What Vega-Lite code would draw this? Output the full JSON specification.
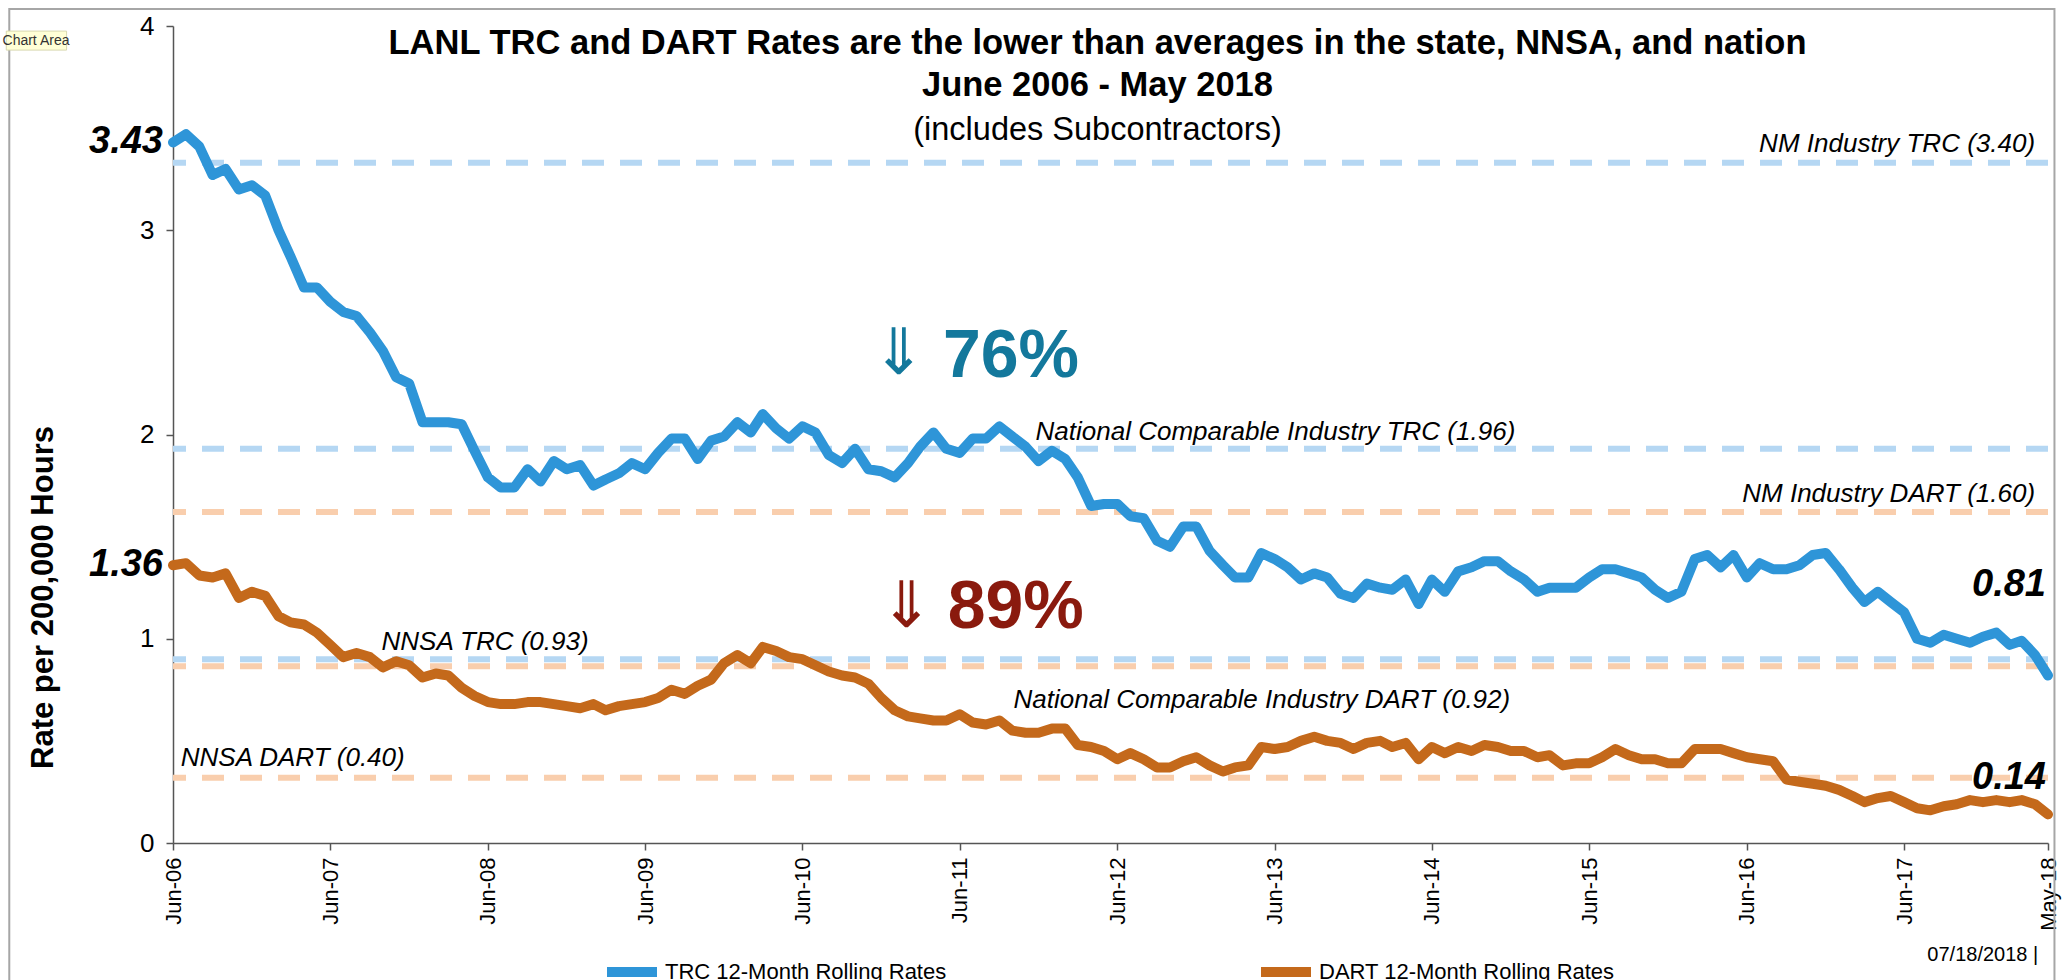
{
  "$schema": "https://vega.github.io/schema/vega-lite/v6.json",
  "autosize": {"type": "none"},
  "width": 1875,
  "height": 817,
  "padding": {"left": 173, "top": 26, "right": 14, "bottom": 137},
  "background": "white",
  "config": {"view": {"stroke": null}, "font": "Liberation Sans"},
  "title": {
    "text": ["LANL TRC and DART Rates are the lower than averages in the state, NNSA, and nation", "June 2006 - May 2018"],
    "subtitle": "(includes Subcontractors)",
    "anchor": "middle",
    "font": "Liberation Sans",
    "fontSize": 34.5,
    "fontWeight": "bold",
    "lineHeight": 42,
    "color": "black",
    "subtitleFont": "Liberation Sans",
    "subtitleFontSize": 32.5,
    "subtitleColor": "black",
    "subtitlePadding": 10,
    "offset": -139,
    "dx": -13
  },
  "datasets": {
    "rates": [
      {"d":"2006-06-01","TRC":3.43,"DART":1.36},{"d":"2006-07-01","TRC":3.47,"DART":1.37},{"d":"2006-08-01","TRC":3.41,"DART":1.31},{"d":"2006-09-01","TRC":3.27,"DART":1.30},{"d":"2006-10-01","TRC":3.30,"DART":1.32},{"d":"2006-11-01","TRC":3.20,"DART":1.20},{"d":"2006-12-01","TRC":3.22,"DART":1.23},
      {"d":"2007-01-01","TRC":3.17,"DART":1.21},{"d":"2007-02-01","TRC":3.00,"DART":1.11},{"d":"2007-03-01","TRC":2.87,"DART":1.08},{"d":"2007-04-01","TRC":2.72,"DART":1.07},{"d":"2007-05-01","TRC":2.72,"DART":1.03},{"d":"2007-06-01","TRC":2.65,"DART":0.97},{"d":"2007-07-01","TRC":2.60,"DART":0.91},{"d":"2007-08-01","TRC":2.58,"DART":0.93},{"d":"2007-09-01","TRC":2.50,"DART":0.91},{"d":"2007-10-01","TRC":2.41,"DART":0.86},{"d":"2007-11-01","TRC":2.28,"DART":0.89},{"d":"2007-12-01","TRC":2.25,"DART":0.87},
      {"d":"2008-01-01","TRC":2.06,"DART":0.81},{"d":"2008-02-01","TRC":2.06,"DART":0.83},{"d":"2008-03-01","TRC":2.06,"DART":0.82},{"d":"2008-04-01","TRC":2.05,"DART":0.76},{"d":"2008-05-01","TRC":1.92,"DART":0.72},{"d":"2008-06-01","TRC":1.79,"DART":0.69},{"d":"2008-07-01","TRC":1.74,"DART":0.68},{"d":"2008-08-01","TRC":1.74,"DART":0.68},{"d":"2008-09-01","TRC":1.83,"DART":0.69},{"d":"2008-10-01","TRC":1.77,"DART":0.69},{"d":"2008-11-01","TRC":1.87,"DART":0.68},{"d":"2008-12-01","TRC":1.83,"DART":0.67},
      {"d":"2009-01-01","TRC":1.85,"DART":0.66},{"d":"2009-02-01","TRC":1.75,"DART":0.68},{"d":"2009-03-01","TRC":1.78,"DART":0.65},{"d":"2009-04-01","TRC":1.81,"DART":0.67},{"d":"2009-05-01","TRC":1.86,"DART":0.68},{"d":"2009-06-01","TRC":1.83,"DART":0.69},{"d":"2009-07-01","TRC":1.91,"DART":0.71},{"d":"2009-08-01","TRC":1.98,"DART":0.75},{"d":"2009-09-01","TRC":1.98,"DART":0.73},{"d":"2009-10-01","TRC":1.88,"DART":0.77},{"d":"2009-11-01","TRC":1.97,"DART":0.80},{"d":"2009-12-01","TRC":1.99,"DART":0.88},
      {"d":"2010-01-01","TRC":2.06,"DART":0.92},{"d":"2010-02-01","TRC":2.01,"DART":0.88},{"d":"2010-03-01","TRC":2.10,"DART":0.96},{"d":"2010-04-01","TRC":2.03,"DART":0.94},{"d":"2010-05-01","TRC":1.98,"DART":0.91},{"d":"2010-06-01","TRC":2.04,"DART":0.90},{"d":"2010-07-01","TRC":2.01,"DART":0.87},{"d":"2010-08-01","TRC":1.90,"DART":0.84},{"d":"2010-09-01","TRC":1.86,"DART":0.82},{"d":"2010-10-01","TRC":1.93,"DART":0.81},{"d":"2010-11-01","TRC":1.83,"DART":0.78},{"d":"2010-12-01","TRC":1.82,"DART":0.71},
      {"d":"2011-01-01","TRC":1.79,"DART":0.65},{"d":"2011-02-01","TRC":1.86,"DART":0.62},{"d":"2011-03-01","TRC":1.94,"DART":0.61},{"d":"2011-04-01","TRC":2.01,"DART":0.60},{"d":"2011-05-01","TRC":1.93,"DART":0.60},{"d":"2011-06-01","TRC":1.91,"DART":0.63},{"d":"2011-07-01","TRC":1.98,"DART":0.59},{"d":"2011-08-01","TRC":1.98,"DART":0.58},{"d":"2011-09-01","TRC":2.04,"DART":0.60},{"d":"2011-10-01","TRC":1.99,"DART":0.55},{"d":"2011-11-01","TRC":1.94,"DART":0.54},{"d":"2011-12-01","TRC":1.87,"DART":0.54},
      {"d":"2012-01-01","TRC":1.92,"DART":0.56},{"d":"2012-02-01","TRC":1.88,"DART":0.56},{"d":"2012-03-01","TRC":1.79,"DART":0.48},{"d":"2012-04-01","TRC":1.65,"DART":0.47},{"d":"2012-05-01","TRC":1.66,"DART":0.45},{"d":"2012-06-01","TRC":1.66,"DART":0.41},{"d":"2012-07-01","TRC":1.60,"DART":0.44},{"d":"2012-08-01","TRC":1.59,"DART":0.41},{"d":"2012-09-01","TRC":1.48,"DART":0.37},{"d":"2012-10-01","TRC":1.45,"DART":0.37},{"d":"2012-11-01","TRC":1.55,"DART":0.40},{"d":"2012-12-01","TRC":1.55,"DART":0.42},
      {"d":"2013-01-01","TRC":1.43,"DART":0.38},{"d":"2013-02-01","TRC":1.36,"DART":0.35},{"d":"2013-03-01","TRC":1.30,"DART":0.37},{"d":"2013-04-01","TRC":1.30,"DART":0.38},{"d":"2013-05-01","TRC":1.42,"DART":0.47},{"d":"2013-06-01","TRC":1.39,"DART":0.46},{"d":"2013-07-01","TRC":1.35,"DART":0.47},{"d":"2013-08-01","TRC":1.29,"DART":0.50},{"d":"2013-09-01","TRC":1.32,"DART":0.52},{"d":"2013-10-01","TRC":1.30,"DART":0.50},{"d":"2013-11-01","TRC":1.22,"DART":0.49},{"d":"2013-12-01","TRC":1.20,"DART":0.46},
      {"d":"2014-01-01","TRC":1.27,"DART":0.49},{"d":"2014-02-01","TRC":1.25,"DART":0.50},{"d":"2014-03-01","TRC":1.24,"DART":0.47},{"d":"2014-04-01","TRC":1.29,"DART":0.49},{"d":"2014-05-01","TRC":1.17,"DART":0.41},{"d":"2014-06-01","TRC":1.29,"DART":0.47},{"d":"2014-07-01","TRC":1.23,"DART":0.44},{"d":"2014-08-01","TRC":1.33,"DART":0.47},{"d":"2014-09-01","TRC":1.35,"DART":0.45},{"d":"2014-10-01","TRC":1.38,"DART":0.48},{"d":"2014-11-01","TRC":1.38,"DART":0.47},{"d":"2014-12-01","TRC":1.33,"DART":0.45},
      {"d":"2015-01-01","TRC":1.29,"DART":0.45},{"d":"2015-02-01","TRC":1.23,"DART":0.42},{"d":"2015-03-01","TRC":1.25,"DART":0.43},{"d":"2015-04-01","TRC":1.25,"DART":0.38},{"d":"2015-05-01","TRC":1.25,"DART":0.39},{"d":"2015-06-01","TRC":1.30,"DART":0.39},{"d":"2015-07-01","TRC":1.34,"DART":0.42},{"d":"2015-08-01","TRC":1.34,"DART":0.46},{"d":"2015-09-01","TRC":1.32,"DART":0.43},{"d":"2015-10-01","TRC":1.30,"DART":0.41},{"d":"2015-11-01","TRC":1.24,"DART":0.41},{"d":"2015-12-01","TRC":1.20,"DART":0.39},
      {"d":"2016-01-01","TRC":1.23,"DART":0.39},{"d":"2016-02-01","TRC":1.39,"DART":0.46},{"d":"2016-03-01","TRC":1.41,"DART":0.46},{"d":"2016-04-01","TRC":1.35,"DART":0.46},{"d":"2016-05-01","TRC":1.41,"DART":0.44},{"d":"2016-06-01","TRC":1.30,"DART":0.42},{"d":"2016-07-01","TRC":1.37,"DART":0.41},{"d":"2016-08-01","TRC":1.34,"DART":0.40},{"d":"2016-09-01","TRC":1.34,"DART":0.31},{"d":"2016-10-01","TRC":1.36,"DART":0.30},{"d":"2016-11-01","TRC":1.41,"DART":0.29},{"d":"2016-12-01","TRC":1.42,"DART":0.28},
      {"d":"2017-01-01","TRC":1.34,"DART":0.26},{"d":"2017-02-01","TRC":1.25,"DART":0.23},{"d":"2017-03-01","TRC":1.18,"DART":0.20},{"d":"2017-04-01","TRC":1.23,"DART":0.22},{"d":"2017-05-01","TRC":1.18,"DART":0.23},{"d":"2017-06-01","TRC":1.13,"DART":0.20},{"d":"2017-07-01","TRC":1.00,"DART":0.17},{"d":"2017-08-01","TRC":0.98,"DART":0.16},{"d":"2017-09-01","TRC":1.02,"DART":0.18},{"d":"2017-10-01","TRC":1.00,"DART":0.19},{"d":"2017-11-01","TRC":0.98,"DART":0.21},{"d":"2017-12-01","TRC":1.01,"DART":0.20},
      {"d":"2018-01-01","TRC":1.03,"DART":0.21},{"d":"2018-02-01","TRC":0.97,"DART":0.20},{"d":"2018-03-01","TRC":0.99,"DART":0.21},{"d":"2018-04-01","TRC":0.92,"DART":0.19},{"d":"2018-05-01","TRC":0.82,"DART":0.14}
    ],
    "refs": [
      {"name":"NM Industry TRC (3.40)","kind":"TRC","v":3.33},
      {"name":"National Comparable Industry TRC (1.96)","kind":"TRC","v":1.93},
      {"name":"NM Industry DART (1.60)","kind":"DART","v":1.62},
      {"name":"NNSA TRC (0.93)","kind":"TRC","v":0.90},
      {"name":"National Comparable Industry DART (0.92)","kind":"DART","v":0.865},
      {"name":"NNSA DART (0.40)","kind":"DART","v":0.32}
    ],
    "refLabelsRight": [
      {"label":"NM Industry TRC (3.40)","d":"2018-04-01","v":3.42},
      {"label":"NM Industry DART (1.60)","d":"2018-04-01","v":1.71}
    ],
    "refLabelsLeft": [
      {"label":"National Comparable Industry TRC (1.96)","d":"2011-11-24","v":2.01},
      {"label":"NNSA TRC (0.93)","d":"2007-09-28","v":0.985},
      {"label":"National Comparable Industry DART (0.92)","d":"2011-10-04","v":0.70},
      {"label":"NNSA DART (0.40)","d":"2006-06-19","v":0.416}
    ],
    "startLabels": [
      {"label":"3.43","d":"2006-06-01","v":3.43},
      {"label":"1.36","d":"2006-06-01","v":1.36}
    ],
    "endLabels": [
      {"label":"0.81","d":"2018-05-01","v":1.263},
      {"label":"0.14","d":"2018-05-01","v":0.318}
    ],
    "pct": [
      {"label":"76%","kind":"TRC","d":"2011-04-23","v":2.38},
      {"label":"89%","kind":"DART","d":"2011-05-04","v":1.15}
    ],
    "arrows": [
      {"label":"⇓","kind":"TRC","d":"2011-01-10","v":2.39},
      {"label":"⇓","kind":"DART","d":"2011-01-28","v":1.15}
    ],
    "stamp": [
      {"label":"07/18/2018   |","d":"2017-07-25","v":-0.548}
    ],
    "frame": [
      {"d":"2005-05-17","d2":"2018-05-16","v":4.083,"v2":-0.75}
    ],
    "tipBox": [
      {"d":"2005-05-10","d2":"2005-09-27","v":3.975,"v2":3.882}
    ],
    "tip": [
      {"label":"Chart Area","d":"2005-07-18","v":3.928}
    ]
  },
  "encoding": {
    "x": {
      "field": "d", "type": "temporal",
      "scale": {"type": "utc", "nice": false, "domain": [{"year":2006,"month":6,"date":1,"utc":true},{"year":2018,"month":5,"date":1,"utc":true}]},
      "axis": {
        "title": null, "grid": false,
        "values": [
          {"year":2006,"month":6,"date":1,"utc":true},{"year":2007,"month":6,"date":1,"utc":true},{"year":2008,"month":6,"date":1,"utc":true},{"year":2009,"month":6,"date":1,"utc":true},{"year":2010,"month":6,"date":1,"utc":true},{"year":2011,"month":6,"date":1,"utc":true},{"year":2012,"month":6,"date":1,"utc":true},{"year":2013,"month":6,"date":1,"utc":true},{"year":2014,"month":6,"date":1,"utc":true},{"year":2015,"month":6,"date":1,"utc":true},{"year":2016,"month":6,"date":1,"utc":true},{"year":2017,"month":6,"date":1,"utc":true},{"year":2018,"month":5,"date":1,"utc":true}
        ],
        "labelExpr": "utcFormat(datum.value, '%b-%y')",
        "labelAngle": -90, "labelAlign": "right", "labelBaseline": "middle",
        "labelFont": "Liberation Sans", "labelFontSize": 22, "labelColor": "black",
        "labelPadding": 7, "labelOverlap": false, "labelFlush": false,
        "tickSize": 7, "tickColor": "#555555", "tickWidth": 1.5,
        "domainColor": "#555555", "domainWidth": 1.5
      }
    },
    "y": {
      "field": "v", "type": "quantitative",
      "scale": {"domain": [0, 4], "nice": false},
      "axis": {
        "values": [0, 1, 2, 3, 4], "grid": false,
        "labelFont": "Liberation Sans", "labelFontSize": 26, "labelColor": "black", "labelPadding": 12,
        "tickSize": 7, "tickColor": "#555555", "tickWidth": 1.5,
        "domainColor": "#555555", "domainWidth": 1.5,
        "title": "Rate per 200,000 Hours", "titleFont": "Liberation Sans", "titleFontSize": 31, "titleFontWeight": "bold", "titleColor": "black",
        "titleX": -130, "titleY": 571, "titleAngle": -90, "titleAlign": "center", "titleBaseline": "middle"
      }
    }
  },
  "layer": [
    {
      "data": {"name": "frame"},
      "mark": {"type": "rect", "fill": null, "stroke": "#A6A6A6", "strokeWidth": 2},
      "encoding": {
        "x2": {"field": "d2"},
        "y2": {"field": "v2"}
      }
    },
    {
      "data": {"name": "tipBox"},
      "mark": {"type": "rect", "fill": "#FFFFD6", "stroke": "#D8D8B0", "strokeWidth": 1},
      "encoding": {
        "x2": {"field": "d2"},
        "y2": {"field": "v2"}
      }
    },
    {
      "data": {"name": "tip"},
      "mark": {"type": "text", "align": "center", "baseline": "middle", "font": "Liberation Sans", "fontSize": 14, "color": "#333333"},
      "encoding": {"text": {"field": "label"}}
    },
    {
      "data": {"name": "refs"},
      "mark": {"type": "rule", "strokeWidth": 6, "strokeDash": [22, 16]},
      "encoding": {
        "x": null,
        "y": {"field": "v", "type": "quantitative"},
        "color": {"field": "kind", "type": "nominal", "scale": {"domain": ["TRC", "DART"], "range": ["#B5D7F3", "#F9CEAD"]}, "legend": null}
      }
    },
    {
      "data": {"name": "refLabelsRight"},
      "mark": {"type": "text", "align": "right", "baseline": "middle", "font": "Liberation Sans", "fontStyle": "italic", "fontSize": 26, "color": "black"},
      "encoding": {"text": {"field": "label"}}
    },
    {
      "data": {"name": "refLabelsLeft"},
      "mark": {"type": "text", "align": "left", "baseline": "middle", "font": "Liberation Sans", "fontStyle": "italic", "fontSize": 26, "color": "black"},
      "encoding": {"text": {"field": "label"}}
    },
    {
      "data": {"name": "rates"},
      "transform": [{"fold": ["TRC", "DART"], "as": ["series", "v"]}],
      "mark": {"type": "line", "strokeWidth": 10, "strokeJoin": "round", "strokeCap": "round"},
      "encoding": {
        "color": {
          "field": "series", "type": "nominal",
          "scale": {"domain": ["TRC", "DART"], "range": ["#2E95D8", "#C4691B"]},
          "legend": {
            "orient": "none", "legendX": 429, "legendY": 916, "direction": "horizontal", "title": null,
            "symbolType": "stroke", "symbolSize": 2500, "symbolStrokeWidth": 10,
            "labelFont": "Liberation Sans", "labelFontSize": 22, "labelColor": "black", "labelOffset": 3, "labelLimit": 400,
            "columnPadding": 294,
            "labelExpr": "datum.label == 'TRC' ? 'TRC 12-Month Rolling Rates' : 'DART 12-Month Rolling Rates'"
          }
        }
      }
    },
    {
      "data": {"name": "startLabels"},
      "mark": {"type": "text", "align": "right", "baseline": "middle", "dx": -10, "font": "Liberation Sans", "fontStyle": "italic", "fontWeight": "bold", "fontSize": 38, "color": "black"},
      "encoding": {"text": {"field": "label"}}
    },
    {
      "data": {"name": "endLabels"},
      "mark": {"type": "text", "align": "right", "baseline": "middle", "dx": -2, "font": "Liberation Sans", "fontStyle": "italic", "fontWeight": "bold", "fontSize": 38, "color": "black"},
      "encoding": {"text": {"field": "label"}}
    },
    {
      "data": {"name": "pct"},
      "mark": {"type": "text", "align": "left", "baseline": "middle", "font": "Liberation Sans", "fontWeight": "bold", "fontSize": 68},
      "encoding": {
        "text": {"field": "label"},
        "color": {"field": "kind", "type": "nominal", "scale": {"domain": ["TRC", "DART"], "range": ["#13789C", "#8A1A0E"]}, "legend": null}
      }
    },
    {
      "data": {"name": "arrows"},
      "mark": {"type": "text", "align": "center", "baseline": "middle", "font": "DejaVu Sans", "fontSize": 64},
      "encoding": {
        "text": {"field": "label"},
        "color": {"field": "kind", "type": "nominal", "scale": {"domain": ["TRC", "DART"], "range": ["#13789C", "#8A1A0E"]}, "legend": null}
      }
    },
    {
      "data": {"name": "stamp"},
      "mark": {"type": "text", "align": "left", "baseline": "middle", "font": "Liberation Sans", "fontSize": 20, "color": "black"},
      "encoding": {"text": {"field": "label"}}
    }
  ],
  "resolve": {"scale": {"color": "independent"}}
}
